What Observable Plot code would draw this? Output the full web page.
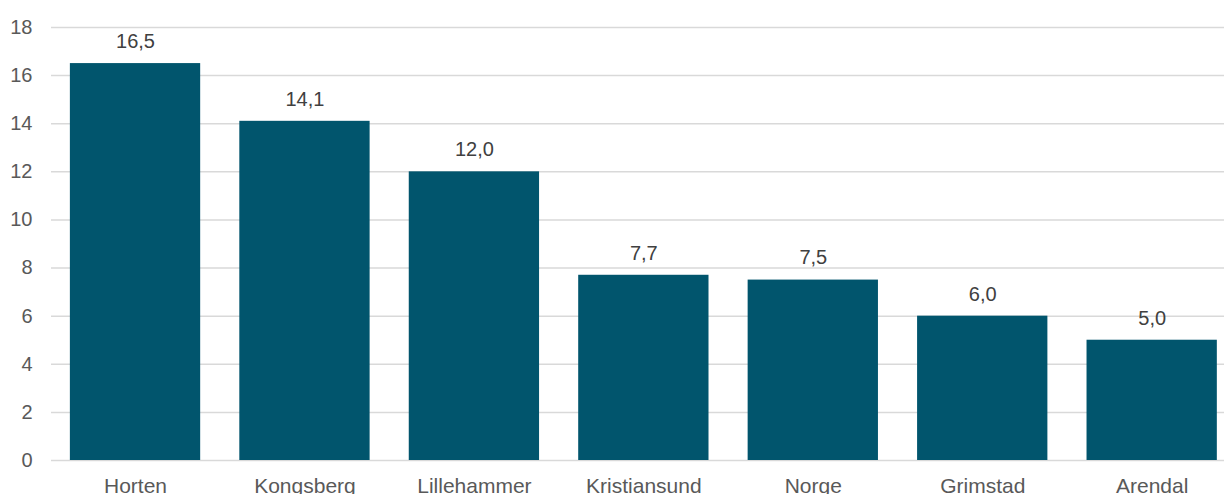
<!DOCTYPE html>
<html><head><meta charset="utf-8">
<script src="https://cdn.jsdelivr.net/npm/d3@7"></script>
<script src="https://cdn.jsdelivr.net/npm/@observablehq/plot@0.6"></script>
<style>
html,body{margin:0;padding:0;background:#fff;overflow:hidden;}
svg{display:block;font-family:"Liberation Sans",Arial,sans-serif;}
</style></head>
<body><div id="chart"></div>
<script>
const categories = ["Horten","Kongsberg","Lillehammer","Kristiansund","Norge","Grimstad","Arendal"];
const values = [16.5, 14.1, 12.0, 7.7, 7.5, 6.0, 5.0];
const yTicks = [0,2,4,6,8,10,12,14,16,18];

const data = categories.map((c,i)=>({cat:c, val:values[i]}));
const fmt = v => v.toFixed(1).replace(".", ",");

const chart = Plot.plot({
  width: 1224,
  height: 494,
  marginTop: 27,
  marginBottom: 34,
  marginLeft: 51,
  marginRight: 0,
  style: {fontFamily: '"Liberation Sans", Arial, sans-serif', fontSize: "20px", background: "#fff"},
  x: {domain: categories, range: [50.3, 1236.4], round: false, paddingInner: 0.231, paddingOuter: 0.1155, label: null},
  y: {domain: [0, 18], label: null},
  marks: [
    Plot.ruleY(yTicks, {stroke: "#d9d9d9", strokeWidth: 1.5}),
    Plot.barY(data, {x: "cat", y: "val", fill: "#01556d"}),
    Plot.text(data, {x: "cat", y: "val", text: d => fmt(d.val), dy: -22, fill: "#404040", fontSize: 20}),
    Plot.axisY({ticks: yTicks, tickSize: 0, tickPadding: 19, fill: "#595959", fontSize: 20, label: null}),
    Plot.axisX({tickSize: 0, tickPadding: 18, fill: "#595959", fontSize: 21, label: null})
  ]
});
document.getElementById("chart").appendChild(chart);
</script></body></html>
